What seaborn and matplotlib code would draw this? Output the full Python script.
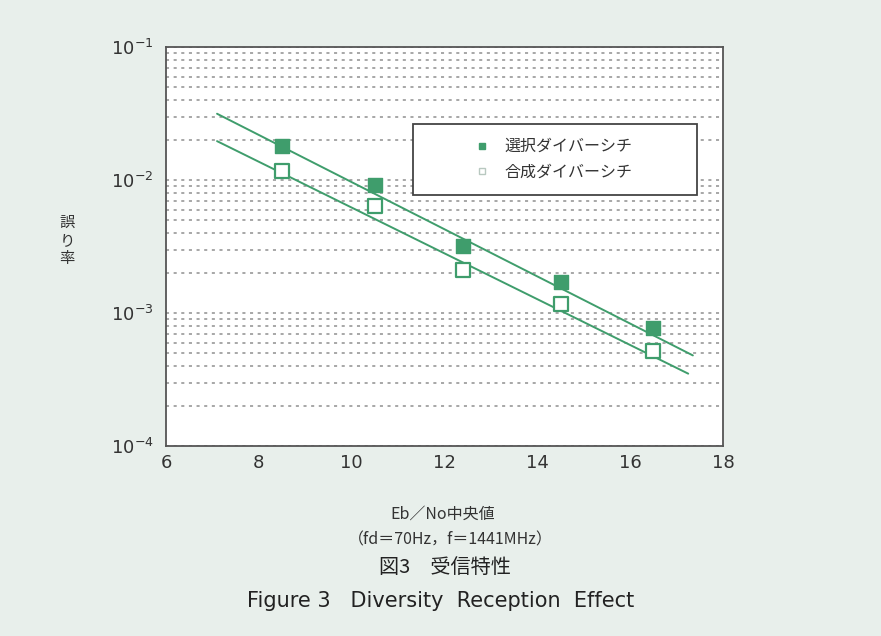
import numpy as np
import pandas as pd
import seaborn as sns
import matplotlib.pyplot as plt
from matplotlib.lines import Line2D
from matplotlib.patches import Rectangle
from matplotlib.ticker import FixedLocator, LogLocator, NullFormatter

# data
ebno = [8.5, 10.5, 12.4, 14.5, 16.5]
err_selection = [0.0180, 0.0092, 0.0032, 0.00172, 0.00077]
err_combining = [0.0116, 0.0064, 0.0021, 0.00117, 0.00052]

# fitted lines (end points)
fit_x_selection = [7.1, 17.35]
fit_y_selection = [0.0315, 0.00048]
fit_x_combining = [7.1, 17.25]
fit_y_combining = [0.0196, 0.00035]

labels = ['選択ダイバーシチ', '合成ダイバーシチ']
xticks = [6, 8, 10, 12, 14, 16, 18]
yticks = [1e-4, 1e-3, 1e-2, 1e-1]
ytick_labels = ['10$^{-4}$', '10$^{-3}$', '10$^{-2}$', '10$^{-1}$']

green = '#3f9d6c'
bg = '#e8efeb'

sns.set_style('white')
plt.rcParams['font.family'] = ['Liberation Sans Narrow', 'DejaVu Sans']
plt.rcParams['mathtext.default'] = 'regular'
jp = ['Noto Sans CJK JP', 'DejaVu Sans']

fig = plt.figure(figsize=(8.81, 6.36), dpi=100, facecolor=bg)
ax = fig.add_axes([0.1884, 0.2987, 0.6323, 0.6274])
ax.set_facecolor('white')

df = pd.DataFrame({'x': ebno, 'sel': err_selection, 'com': err_combining})
fit_sel = pd.DataFrame({'x': fit_x_selection, 'y': fit_y_selection})
fit_com = pd.DataFrame({'x': fit_x_combining, 'y': fit_y_combining})

ax.set_yscale('log')
sns.lineplot(data=fit_sel, x='x', y='y', ax=ax, color=green, lw=1.4, zorder=3)
sns.lineplot(data=fit_com, x='x', y='y', ax=ax, color=green, lw=1.4, zorder=3)
sns.scatterplot(data=df, x='x', y='sel', ax=ax, marker='s', s=100,
                color=green, edgecolor=green, linewidth=1, zorder=4)
sns.scatterplot(data=df, x='x', y='com', ax=ax, marker='s', s=90,
                facecolor='white', edgecolor=green, linewidth=1.6, zorder=4)

ax.set_xlim(6, 18)
ax.set_ylim(1e-4, 1e-1)
ax.set_xlabel('')
ax.set_ylabel('')

ax.xaxis.set_major_locator(FixedLocator(xticks))
ax.yaxis.set_major_locator(FixedLocator(yticks))
ax.set_yticklabels(ytick_labels)
ax.yaxis.set_minor_locator(LogLocator(base=10, subs=np.arange(2, 10)))
ax.yaxis.set_minor_formatter(NullFormatter())
ax.tick_params(axis='x', direction='in', length=6, width=1, labelsize=13,
               pad=6, colors='#333333')
ax.tick_params(axis='y', which='both', length=0, labelsize=13, pad=9,
               colors='#333333')
ax.yaxis.grid(True, which='both', linestyle=(0, (2, 3)), color='#8f8f8f',
              lw=1.1)
ax.set_axisbelow(True)
for sp in ax.spines.values():
    sp.set_color('#555555')
    sp.set_linewidth(1.3)

# legend box
ax.add_patch(Rectangle((0.443, 0.629), 0.51, 0.178, transform=ax.transAxes,
                       facecolor='white', edgecolor='#444444', lw=1.3,
                       zorder=5))
handles = [
    Line2D([], [], marker='s', ls='', markersize=5, color=green,
           markeredgecolor=green),
    Line2D([], [], marker='s', ls='', markersize=5, markerfacecolor='white',
           markeredgecolor='#b8c8c0'),
]
leg = ax.legend(handles, labels, loc='center', bbox_to_anchor=(0.695, 0.718),
                frameon=False, prop={'family': jp, 'size': 11.5},
                labelspacing=0.55, handletextpad=0.9, handlelength=1.0)
leg.set_zorder(6)
for t in leg.get_texts():
    t.set_color('#333333')

# y label, vertical characters
fig.text(0.076, 0.622, '誤\nり\n率', family=jp, fontsize=11, ha='center',
         va='center', linespacing=1.05, color='#333333')

# captions
fig.text(0.503, 0.192, 'Eb／No中央値', family=jp, fontsize=11.5,
         ha='center', va='center', color='#333333')
fig.text(0.511, 0.151, '（fd＝70Hz，f＝1441MHz）', family=jp, fontsize=11.5,
         ha='center', va='center', color='#333333')
fig.text(0.505, 0.108, '図3　受信特性', family=jp, fontsize=14.5,
         ha='center', va='center', color='#222222')
fig.text(0.5, 0.055, 'Figure 3   Diversity  Reception  Effect',
         family=['DejaVu Sans'], fontsize=15, ha='center', va='center',
         color='#222222')

fig.savefig('out.png', dpi=100, facecolor=bg)
